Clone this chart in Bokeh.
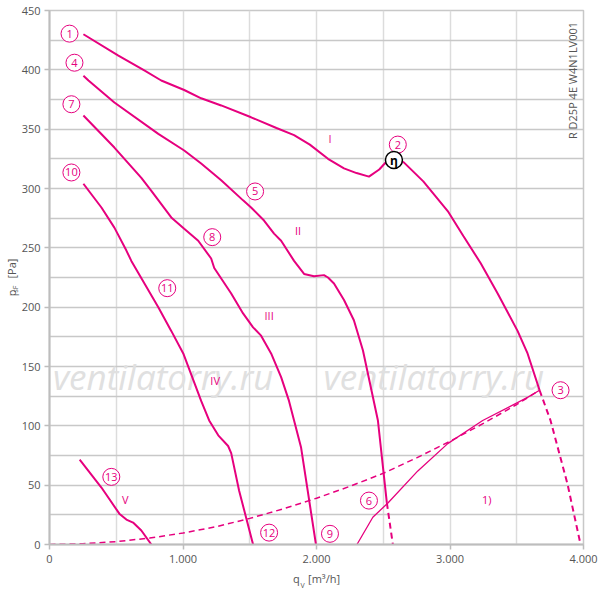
import math
from bokeh.plotting import figure
from bokeh.models import Range1d, FixedTicker, Label
from bokeh.core.properties import value
from bokeh.embed import file_html
from bokeh.resources import INLINE

PINK = "#e6007e"
FONT = "Open Sans"

# ---------------- data ----------------
x_ticks = [0, 1000, 2000, 3000, 4000]
x_tick_labels = ["0", "1.000", "2.000", "3.000", "4.000"]
y_ticks = [0, 50, 100, 150, 200, 250, 300, 350, 400, 450]

c1_x = [254, 516, 710, 837, 1009, 1136, 1286, 1510, 1700, 1832, 1950, 2086, 2206, 2300, 2393,
        2470, 2535, 2580, 2654, 2800, 2983, 3100, 3230, 3357, 3506, 3581, 3671]
c1_y = [430, 412, 399.5, 391, 383, 376, 370, 360, 351, 345, 337, 325, 317, 313, 310,
        316, 324, 326, 322, 306, 281, 260, 237, 211.5, 180, 161, 130]
c1d_x = [3671, 3753, 3880, 3978]
c1d_y = [130, 104.5, 51, 0]

c2_x = [254, 292, 486, 815, 1009, 1136, 1286, 1450, 1510, 1607, 1682, 1735, 1832, 1907, 1981,
        2056, 2086, 2131, 2206, 2280, 2348, 2460, 2527]
c2_y = [395, 391, 372.5, 346, 332, 321, 307, 290, 284, 273, 262, 256, 239, 228, 226,
        227, 225, 220, 206, 189, 163.5, 104.5, 35]
c2d_x = [2527, 2572]
c2d_y = [35, 0]

c3_x = [254, 486, 688, 763, 912, 1009, 1114, 1211, 1234, 1361, 1450, 1525, 1585, 1660, 1735,
        1794, 1832, 1884, 1996]
c3_y = [361.5, 334.5, 309, 298, 275.6, 266, 256, 241, 233, 211.5, 194.7, 183, 176, 161, 141,
        121, 104.5, 82, 0]

c4_x = [254, 389, 486, 576, 613, 815, 912, 1002, 1136, 1196, 1264, 1338, 1361, 1420, 1525]
c4_y = [304, 284, 267, 247.7, 239, 200, 180, 161, 121, 104.5, 92, 83, 77, 45.5, 0]

c5_x = [226, 389, 523, 576, 626, 688, 763]
c5_y = [71.6, 48, 26, 21, 18.5, 11.8, 0]

c6_x = [2303, 2422, 2535, 2759, 2983, 3245, 3581, 3671]
c6_y = [0, 23, 35, 62, 85, 104.5, 124, 130]

sys_x = [0, 250, 500, 750, 1000, 1250, 1500, 1750, 2000, 2250, 2500, 2750, 3000, 3250, 3500, 3671]
sys_y = [0, 0.6, 2.4, 5.4, 9.7, 15, 22, 30, 39, 49, 60, 73, 87, 102, 118, 130]

num_labels = ["1", "2", "3", "4", "5", "6", "7", "8", "9", "10", "11", "12", "13"]
num_x = [150, 2609, 3828, 187, 1540, 2393, 164, 1219, 2101, 164, 882, 1645, 463]
num_y = [430.5, 337, 130, 406, 297.5, 37, 371, 259, 9, 313.5, 216, 10, 57]

roman_labels = ["I", "II", "III", "IV", "V", "1)"]
roman_x = [2101, 1862, 1645, 1241, 568, 3275]
roman_y = [342, 264.6, 193, 138, 38, 38]

eta_x = [2580]
eta_y = [324]

model_text = "R D25P 4E W4N1LV001"
watermark = "ventilatorry.ru"
wm_x = [852, 2879]
wm_y = [141.6, 141.6]

x_label = "q\u2002\u00a0[m³/h]"
x_sub = "V"
y_label = "p\u2002\u2002[Pa]"
y_sub = "sF"

# ---------------- figure ----------------
W, H = 600, 591
L, R, T, B = 48, 583, 10, 544  # frame edges in page pixels

p = figure(width=W, height=H, x_range=Range1d(0, 4000), y_range=Range1d(0, 450),
           output_backend="svg", toolbar_location=None,
           min_border_left=L, min_border_right=W - R, min_border_top=T, min_border_bottom=H - B)
p.background_fill_color = "white"
p.border_fill_color = "white"
p.outline_line_color = "#c8c8c8"
p.outline_line_width = 1.5

p.xaxis.ticker = FixedTicker(ticks=x_ticks, minor_ticks=[500, 1500, 2500, 3500])
p.yaxis.ticker = FixedTicker(ticks=y_ticks, minor_ticks=[25 + 50 * i for i in range(9)])
p.xaxis.major_label_overrides = {t: l for t, l in zip(x_ticks, x_tick_labels)}

for ax in (p.xaxis, p.yaxis):
    ax.axis_line_color = "#bdbdbd"
    ax.axis_line_width = 2
    ax.major_tick_line_color = "#bdbdbd"
    ax.major_tick_line_width = 1.5
    ax.major_tick_out = 5
    ax.major_tick_in = 0
    ax.minor_tick_line_color = None
    ax.major_label_text_font = FONT
    ax.major_label_text_font_size = "11px"
    ax.major_label_text_color = "#555555"
    ax.axis_label_text_font = FONT
    ax.axis_label_text_font_size = "11px"
    ax.axis_label_text_font_style = "normal"
    ax.axis_label_text_color = "#555555"
p.xaxis.major_label_standoff = 5
p.yaxis.major_label_standoff = 4
p.xaxis.axis_label = x_label
p.yaxis.axis_label = y_label
p.xaxis.axis_label_standoff = 5
p.yaxis.axis_label_standoff = 0

p.xgrid.grid_line_color = "#dcdcdc"
p.xgrid.grid_line_width = 1.5
p.xgrid.minor_grid_line_color = "#dcdcdc"
p.xgrid.minor_grid_line_width = 1.5
p.ygrid.grid_line_color = "#c8c8c8"
p.ygrid.grid_line_width = 1.5
p.ygrid.minor_grid_line_color = "#c8c8c8"
p.ygrid.minor_grid_line_width = 1.5

# watermark
p.text(x=wm_x, y=wm_y, text=[watermark, watermark], text_font=value(FONT),
       text_font_style="italic", text_font_size="35px", text_color="#e0e0e0",
       text_align="center", text_baseline="middle")

# curves
p.line(sys_x, sys_y, line_color=PINK, line_width=1.5, line_dash="6 4")
p.line(c6_x, c6_y, line_color=PINK, line_width=1.3)
for xs, ys in ((c1_x, c1_y), (c2_x, c2_y), (c3_x, c3_y), (c4_x, c4_y), (c5_x, c5_y)):
    p.line(xs, ys, line_color=PINK, line_width=2)
p.line(c1d_x, c1d_y, line_color=PINK, line_width=2, line_dash="6 4")
p.line(c2d_x, c2d_y, line_color=PINK, line_width=2, line_dash="6 4")

# circled numbers
p.scatter(num_x, num_y, size=17, marker="circle", fill_color="white",
          line_color=PINK, line_width=1)
p.text(x=num_x, y=num_y, text=num_labels, text_font=value(FONT), text_font_size="11px",
       text_color=PINK, text_align="center", text_baseline="middle")

# roman labels
p.text(x=roman_x, y=roman_y, text=roman_labels, text_font=value(FONT), text_font_size="11px",
       text_color=PINK, text_align="center", text_baseline="middle")

# eta marker
p.scatter(eta_x, eta_y, size=17, marker="circle", fill_color="white",
          line_color="black", line_width=1.5)
p.text(x=eta_x, y=eta_y, text=["η"], text_font=value(FONT), text_font_size="12px",
       text_font_style="bold", text_color="black", text_align="center", text_baseline="middle")

# model designation (vertical)
p.text(x=[3918], y=[391], text=[model_text], angle=math.pi / 2, text_font=value(FONT),
       text_font_size="11px", text_color="#555555", text_align="center", text_baseline="middle")


# subscripts of the axis titles (placed in the spare right border so they are not clipped)
def dx(px):
    return (px - L) * 4000 / (R - L)


def dy(py):
    return (B - py) * 450 / (B - T)


p.add_layout(Label(x=dx(299.5), y=dy(585), text=x_sub, text_font=FONT, text_font_size="7px",
                   text_color="#555555", text_align="left", text_baseline="alphabetic"), "right")
p.add_layout(Label(x=dx(13.5), y=dy(292), text=y_sub, angle=math.pi / 2, text_font=FONT,
                   text_font_size="7px", text_color="#555555", text_align="left",
                   text_baseline="alphabetic"), "right")

open("out.html", "w").write(file_html(p, INLINE))
